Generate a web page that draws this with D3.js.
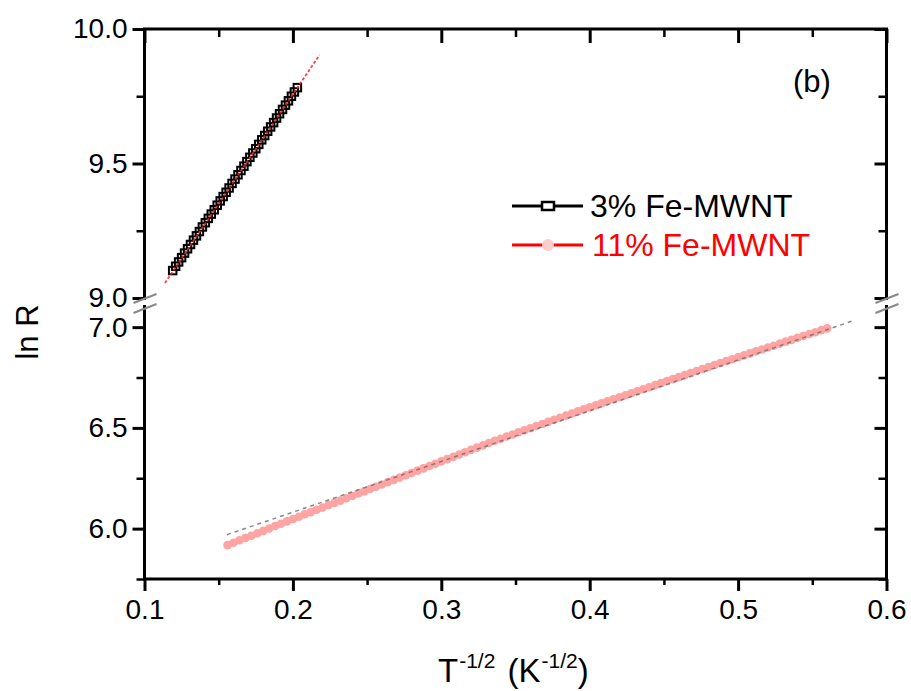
<!DOCTYPE html>
<html>
<head>
<meta charset="utf-8">
<script src="https://cdn.jsdelivr.net/npm/d3@7/dist/d3.min.js"></script>
<style>
  html, body { margin: 0; padding: 0; background: #fff; }
  svg { display: block; font-family: "Liberation Sans", Arial, sans-serif; }
</style>
</head>
<body>
<svg id="chart" width="911" height="691"></svg>
<script>
// ln R versus T^-1/2 for two Fe-MWNT samples (broken y axis)

// 3% Fe-MWNT: x = T^-1/2 (K^-1/2), y = ln R
const fe3X = [0.119, 0.121, 0.123, 0.125, 0.127, 0.129, 0.131, 0.133, 0.135, 0.137,
              0.139, 0.141, 0.143, 0.145, 0.147, 0.149, 0.151, 0.153, 0.155, 0.157,
              0.159, 0.161, 0.163, 0.165, 0.167, 0.169, 0.171, 0.173, 0.175, 0.177,
              0.179, 0.181, 0.183, 0.185, 0.187, 0.189, 0.191, 0.193, 0.195, 0.197,
              0.199, 0.201, 0.203];
const fe3Y = [9.102, 9.118, 9.134, 9.150, 9.167, 9.183, 9.199, 9.215, 9.231, 9.247,
              9.264, 9.280, 9.296, 9.312, 9.328, 9.345, 9.361, 9.377, 9.393, 9.409,
              9.426, 9.442, 9.458, 9.474, 9.490, 9.507, 9.523, 9.539, 9.555, 9.571,
              9.588, 9.604, 9.620, 9.636, 9.652, 9.669, 9.685, 9.701, 9.717, 9.733,
              9.750, 9.766, 9.782];

// 11% Fe-MWNT
const fe11X = [0.156, 0.160, 0.164, 0.168, 0.172, 0.176, 0.180, 0.184, 0.188, 0.192,
               0.196, 0.200, 0.204, 0.208, 0.212, 0.216, 0.220, 0.224, 0.228, 0.232,
               0.236, 0.240, 0.244, 0.248, 0.252, 0.256, 0.260, 0.264, 0.268, 0.272,
               0.276, 0.280, 0.284, 0.288, 0.292, 0.296, 0.300, 0.304, 0.308, 0.312,
               0.316, 0.320, 0.324, 0.328, 0.332, 0.336, 0.340, 0.344, 0.348, 0.352,
               0.356, 0.360, 0.364, 0.368, 0.372, 0.376, 0.380, 0.384, 0.388, 0.392,
               0.396, 0.400, 0.404, 0.408, 0.412, 0.416, 0.420, 0.424, 0.428, 0.432,
               0.436, 0.440, 0.444, 0.448, 0.452, 0.456, 0.460, 0.464, 0.468, 0.472,
               0.476, 0.480, 0.484, 0.488, 0.492, 0.496, 0.500, 0.504, 0.508, 0.512,
               0.516, 0.520, 0.524, 0.528, 0.532, 0.536, 0.540, 0.544, 0.548, 0.552,
               0.556, 0.560];
const fe11Y = [5.918, 5.930, 5.942, 5.954, 5.965, 5.977, 5.989, 6.001, 6.013, 6.024,
               6.036, 6.048, 6.059, 6.071, 6.082, 6.094, 6.105, 6.117, 6.128, 6.139,
               6.151, 6.162, 6.174, 6.185, 6.197, 6.208, 6.219, 6.231, 6.242, 6.254,
               6.265, 6.276, 6.288, 6.299, 6.311, 6.322, 6.334, 6.345, 6.356, 6.368,
               6.379, 6.391, 6.402, 6.413, 6.425, 6.436, 6.446, 6.457, 6.467, 6.478,
               6.488, 6.498, 6.509, 6.519, 6.530, 6.540, 6.550, 6.561, 6.571, 6.582,
               6.592, 6.602, 6.612, 6.622, 6.632, 6.642, 6.652, 6.662, 6.672, 6.682,
               6.692, 6.702, 6.712, 6.722, 6.732, 6.742, 6.752, 6.762, 6.772, 6.782,
               6.792, 6.802, 6.812, 6.822, 6.832, 6.841, 6.851, 6.860, 6.870, 6.880,
               6.889, 6.899, 6.908, 6.918, 6.928, 6.937, 6.947, 6.956, 6.966, 6.975,
               6.985, 6.994];

// linear fits (end points)
const fit3X = [0.1138, 0.2179];
const fit3Y = [9.056, 9.903];
const fit11X = [0.1556, 0.578];
const fit11Y = [5.970, 7.033];

// ticks
const xMajor = [0.1, 0.2, 0.3, 0.4, 0.5, 0.6];
const xMinor = [0.15, 0.25, 0.35, 0.45, 0.55];
const yTopMajor = [9.0, 9.5, 10.0];
const yTopMinor = [9.25, 9.75];
const yBotMajor = [6.0, 6.5, 7.0];
const yBotMinor = [5.75, 6.25, 6.75];

const legendLabels = ["3% Fe-MWNT", "11% Fe-MWNT"];

const L = 144.5, R = 886.5, T = 29, B = 579;
const breakTop = 298, breakBot = 307;

const svg = d3.select("#chart");

const x = d3.scaleLinear().domain([0.1, 0.6]).range([L, R]);
const yTop = d3.scaleLinear().domain([9.0, 10.0]).range([breakTop, T]);
const yBot = d3.scaleLinear().domain([5.75, 7.1]).range([B, breakBot]);

const fmt = d3.format(".1f");
const tickFont = "28px";

function styleAxis(g, width) {
  g.select(".domain").remove();
  g.selectAll(".tick line").attr("stroke", "#000").attr("stroke-width", width);
  g.selectAll(".tick text").attr("fill", "#000").style("font-size", tickFont);
}

// left axis ticks (outward) with labels, right axis ticks (inward)
[[yTop, yTopMajor, yTopMinor], [yBot, yBotMajor, yBotMinor]].forEach(([s, maj, min]) => {
  svg.append("g").attr("transform", `translate(${L},0)`)
    .call(d3.axisLeft(s).tickValues(maj).tickSize(12).tickPadding(5).tickFormat(fmt))
    .call(g => styleAxis(g, 3));
  svg.append("g").attr("transform", `translate(${L},0)`)
    .call(d3.axisLeft(s).tickValues(min).tickSize(8).tickFormat(""))
    .call(g => styleAxis(g, 2.5));
  svg.append("g").attr("transform", `translate(${R},0)`)
    .call(d3.axisLeft(s).tickValues(maj).tickSize(12).tickFormat(""))
    .call(g => styleAxis(g, 3));
  svg.append("g").attr("transform", `translate(${R},0)`)
    .call(d3.axisLeft(s).tickValues(min).tickSize(8).tickFormat(""))
    .call(g => styleAxis(g, 2.5));
});

// bottom axis
svg.append("g").attr("transform", `translate(0,${B})`)
  .call(d3.axisBottom(x).tickValues(xMajor).tickSize(12).tickPadding(8).tickFormat(fmt))
  .call(g => styleAxis(g, 3));
svg.append("g").attr("transform", `translate(0,${B})`)
  .call(d3.axisBottom(x).tickValues(xMinor).tickSize(6).tickFormat(""))
  .call(g => styleAxis(g, 2.5));
// top axis (inward)
svg.append("g").attr("transform", `translate(0,${T})`)
  .call(d3.axisBottom(x).tickValues(xMajor).tickSize(14).tickFormat(""))
  .call(g => styleAxis(g, 3));
svg.append("g").attr("transform", `translate(0,${T})`)
  .call(d3.axisBottom(x).tickValues(xMinor).tickSize(8).tickFormat(""))
  .call(g => styleAxis(g, 2.5));

// frame with a gap at the axis break
const frame = svg.append("g").attr("stroke", "#000").attr("stroke-width", 3).attr("fill", "none");
frame.append("line").attr("x1", L - 1.5).attr("x2", R + 1.5).attr("y1", T).attr("y2", T);
frame.append("line").attr("x1", L - 1.5).attr("x2", R + 1.5).attr("y1", B).attr("y2", B);
[L, R].forEach(xx => {
  frame.append("line").attr("x1", xx).attr("x2", xx).attr("y1", T).attr("y2", breakTop + 2);
  frame.append("line").attr("x1", xx).attr("x2", xx).attr("y1", breakBot - 2).attr("y2", B);
});
// break marks
const brk = svg.append("g").attr("stroke", "#8a8a8a").attr("stroke-width", 2.2);
[L, R].forEach(xx => {
  [[303, 294], [313, 304]].forEach(([ya, yb]) => {
    brk.append("line").attr("x1", xx - 11).attr("y1", ya).attr("x2", xx + 12).attr("y2", yb);
  });
});

// 11% data (pink circles)
const d11 = fe11X.map((v, i) => [v, fe11Y[i]]);
svg.append("g").selectAll("circle").data(d11).join("circle")
  .attr("cx", d => x(d[0])).attr("cy", d => yBot(d[1]))
  .attr("r", 4.3).attr("fill", "#ffa3a3");

// fit for 11% (dashed grey)
svg.append("path")
  .attr("d", d3.line().x(d => x(d[0])).y(d => yBot(d[1]))(fit11X.map((v, i) => [v, fit11Y[i]])))
  .attr("fill", "none").attr("stroke", "#6a6a6a").attr("stroke-width", 1.5)
  .attr("stroke-dasharray", "4,4").attr("opacity", 0.8);

// 3% data (open black squares)
const d3p = fe3X.map((v, i) => [v, fe3Y[i]]);
const sq = 7.5;
svg.append("g").selectAll("rect").data(d3p).join("rect")
  .attr("x", d => x(d[0]) - sq / 2).attr("y", d => yTop(d[1]) - sq / 2)
  .attr("width", sq).attr("height", sq)
  .attr("fill", "none").attr("stroke", "#000").attr("stroke-width", 2);

// fit for 3% (red)
svg.append("path")
  .attr("d", d3.line().x(d => x(d[0])).y(d => yTop(d[1]))(fit3X.map((v, i) => [v, fit3Y[i]])))
  .attr("fill", "none").attr("stroke", "#ff2020").attr("stroke-width", 1.8)
  .attr("stroke-dasharray", "3,2").attr("opacity", 0.85);

// legend
const lg = svg.append("g");
lg.append("line").attr("x1", 512).attr("x2", 583).attr("y1", 206).attr("y2", 206)
  .attr("stroke", "#000").attr("stroke-width", 3);
lg.append("rect").attr("x", 542).attr("y", 202).attr("width", 12).attr("height", 8)
  .attr("fill", "#fff").attr("stroke", "#000").attr("stroke-width", 2.5);
lg.append("text").attr("x", 590).attr("y", 217).text(legendLabels[0])
  .style("font-size", "32px").attr("fill", "#000");
lg.append("line").attr("x1", 512).attr("x2", 583).attr("y1", 245).attr("y2", 245)
  .attr("stroke", "#ff0000").attr("stroke-width", 3);
lg.append("circle").attr("cx", 548).attr("cy", 245).attr("r", 6).attr("fill", "#ffcccc");
lg.append("text").attr("x", 592).attr("y", 256).text(legendLabels[1])
  .style("font-size", "32px").attr("fill", "#ff0000");

// panel tag
svg.append("text").attr("x", 812).attr("y", 92).attr("text-anchor", "middle")
  .style("font-size", "31px").text("(b)");

// axis titles
svg.append("text").attr("transform", "translate(38,332) rotate(-90)")
  .attr("text-anchor", "middle").style("font-size", "31px").text("ln R");

const xt = svg.append("text").attr("x", 438).attr("y", 682).style("font-size", "33px");
xt.append("tspan").text("T");
xt.append("tspan").attr("dx", 1).attr("dy", -14).style("font-size", "21px").text("-1/2");
xt.append("tspan").attr("dx", 3).attr("dy", 14).text(" (K");
xt.append("tspan").attr("dx", 1).attr("dy", -14).style("font-size", "21px").text("-1/2");
xt.append("tspan").attr("dy", 14).text(")");
</script>
</body>
</html>
